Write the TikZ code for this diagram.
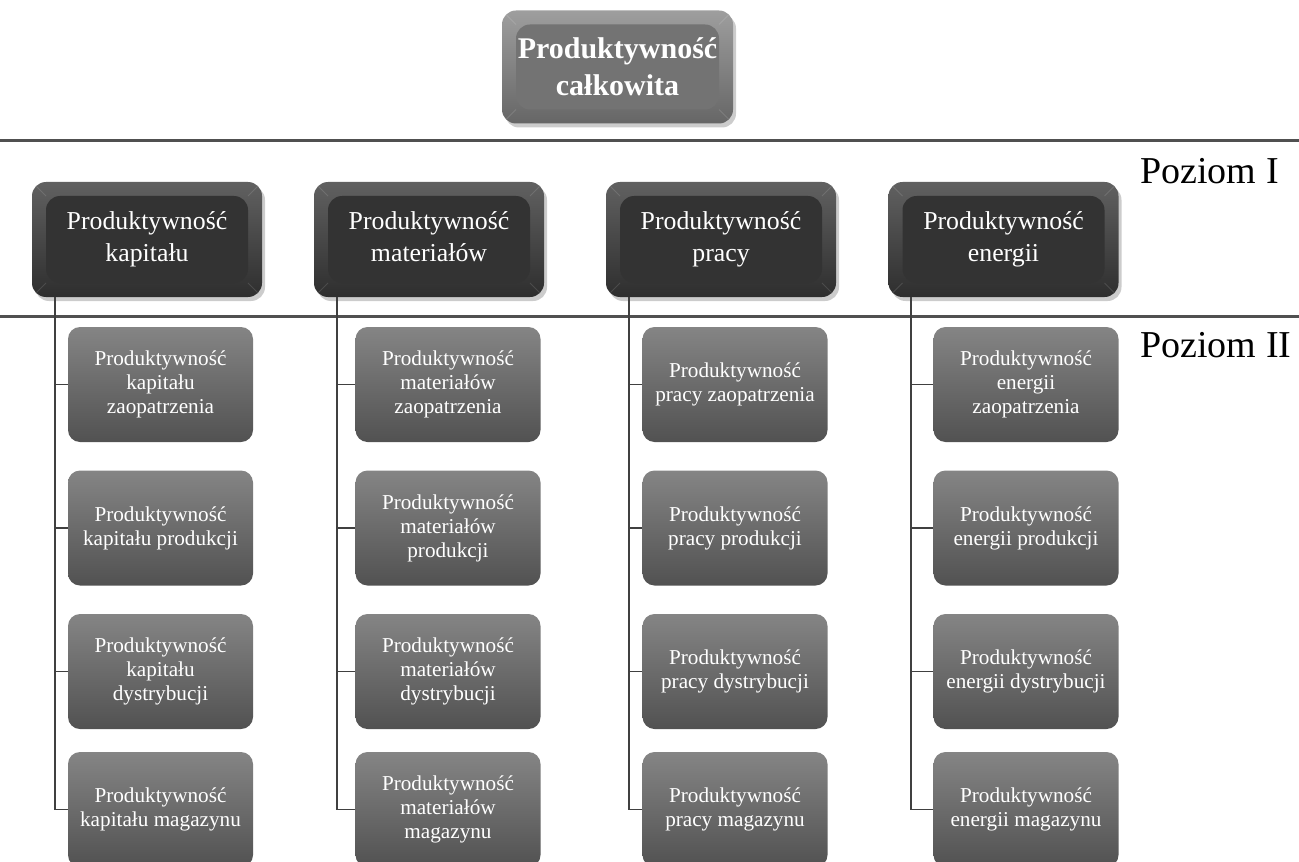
\documentclass[tikz,border=0pt]{standalone}
\usepackage{fontspec}
\setmainfont{Liberation Serif}
\usetikzlibrary{shadows}
\definecolor{rulegray}{HTML}{505050}
\tikzset{
  bevel/.style={path picture={
      \fill[#1] ([xshift=7pt,yshift=-7pt]path picture bounding box.north west)
        rectangle ([xshift=-7pt,yshift=7pt]path picture bounding box.south east);
      \draw[white,opacity=.12]
        (path picture bounding box.north west) -- ++(7pt,-7pt)
        (path picture bounding box.north east) -- ++(-7pt,-7pt)
        (path picture bounding box.south west) -- ++(7pt,7pt)
        (path picture bounding box.south east) -- ++(-7pt,7pt);}},
  total/.style={rounded corners=7pt, minimum width=115.5pt, minimum height=56.5pt,
    top color=black!38, bottom color=black!60, bevel=black!55,
    drop shadow={shadow xshift=1.5pt,shadow yshift=-2pt,fill=black!40,opacity=.5},
    text=white, align=center, font=\fontsize{15}{18.5}\selectfont\bfseries},
  lvlone/.style={rounded corners=7pt, minimum width=115pt, minimum height=57.5pt,
    top color=black!62, bottom color=black!82, bevel=black!80,
    drop shadow={shadow xshift=1.5pt,shadow yshift=-2pt,fill=black!40,opacity=.5},
    text=white, align=center, font=\fontsize{12.9}{16}\selectfont},
  lvltwo/.style={rounded corners=6pt, minimum width=92.5pt, minimum height=57.5pt,
    top color=black!48, bottom color=black!68,
    text=white, align=center, font=\fontsize{10.6}{12}\selectfont},
  rule/.style={rulegray, line width=1.5pt},
  link/.style={black!75, line width=.9pt},
  level/.style={anchor=base west, inner sep=0pt, font=\fontsize{19}{22}\selectfont}
}
\begin{document}
\begin{tikzpicture}[x=0.5pt,y=-0.5pt]
  \useasboundingbox (0,0) rectangle (1299,861);
  % poziomy
  \draw[rule] (0,141) -- (1299,141);
  \draw[rule] (0,316) -- (1299,316);
  \node[level] (pI) at (1140,184) {Poziom I};
  \node[level] (pII) at (1140,357) {Poziom II};
  % produktywnosc calkowita
  \node[total] (t) at (617.5,67) {Produktywność\\całkowita};
  % poziom I
  \node[lvlone] (k) at (147,239.5) {Produktywność\\kapitału};
  \node[lvlone] (m) at (429,239.5) {Produktywność\\materiałów\vphantom{p}};
  \node[lvlone] (p) at (721,239.5) {Produktywność\\pracy};
  \node[lvlone] (e) at (1003.5,239.5) {Produktywność\\energii};
  % poziom II
  \node[lvltwo] (k1) at (160.5,384.5) {Produktywność\\kapitału\\zaopatrzenia};
  \node[lvltwo] (k2) at (160.5,528) {Produktywność\\kapitału produkcji};
  \node[lvltwo] (k3) at (160.5,671.5) {Produktywność\\kapitału\\dystrybucji};
  \node[lvltwo] (k4) at (160.5,809.5) {Produktywność\\kapitału magazynu};
  \node[lvltwo] (m1) at (448,384.5) {Produktywność\\materiałów\\zaopatrzenia};
  \node[lvltwo] (m2) at (448,528) {Produktywność\\materiałów\\produkcji};
  \node[lvltwo] (m3) at (448,671.5) {Produktywność\\materiałów\\dystrybucji};
  \node[lvltwo] (m4) at (448,809.5) {Produktywność\\materiałów\\magazynu};
  \node[lvltwo] (p1) at (735,384.5) {Produktywność\\pracy zaopatrzenia};
  \node[lvltwo] (p2) at (735,528) {Produktywność\\pracy produkcji};
  \node[lvltwo] (p3) at (735,671.5) {Produktywność\\pracy dystrybucji};
  \node[lvltwo] (p4) at (735,809.5) {Produktywność\\pracy magazynu};
  \node[lvltwo] (e1) at (1026,384.5) {Produktywność\\energii\\zaopatrzenia};
  \node[lvltwo] (e2) at (1026,528) {Produktywność\\energii produkcji};
  \node[lvltwo] (e3) at (1026,671.5) {Produktywność\\energii dystrybucji};
  \node[lvltwo] (e4) at (1026,809.5) {Produktywność\\energii magazynu};
  % polaczenia
  \draw[link] ([xshift=11.5pt]k.south west) |- (k1.west);
  \draw[link] ([xshift=11.5pt]k.south west) |- (k2.west);
  \draw[link] ([xshift=11.5pt]k.south west) |- (k3.west);
  \draw[link] ([xshift=11.5pt]k.south west) |- (k4.west);
  \draw[link] ([xshift=11.5pt]m.south west) |- (m1.west);
  \draw[link] ([xshift=11.5pt]m.south west) |- (m2.west);
  \draw[link] ([xshift=11.5pt]m.south west) |- (m3.west);
  \draw[link] ([xshift=11.5pt]m.south west) |- (m4.west);
  \draw[link] ([xshift=11.5pt]p.south west) |- (p1.west);
  \draw[link] ([xshift=11.5pt]p.south west) |- (p2.west);
  \draw[link] ([xshift=11.5pt]p.south west) |- (p3.west);
  \draw[link] ([xshift=11.5pt]p.south west) |- (p4.west);
  \draw[link] ([xshift=11.5pt]e.south west) |- (e1.west);
  \draw[link] ([xshift=11.5pt]e.south west) |- (e2.west);
  \draw[link] ([xshift=11.5pt]e.south west) |- (e3.west);
  \draw[link] ([xshift=11.5pt]e.south west) |- (e4.west);
\end{tikzpicture}
\end{document}
